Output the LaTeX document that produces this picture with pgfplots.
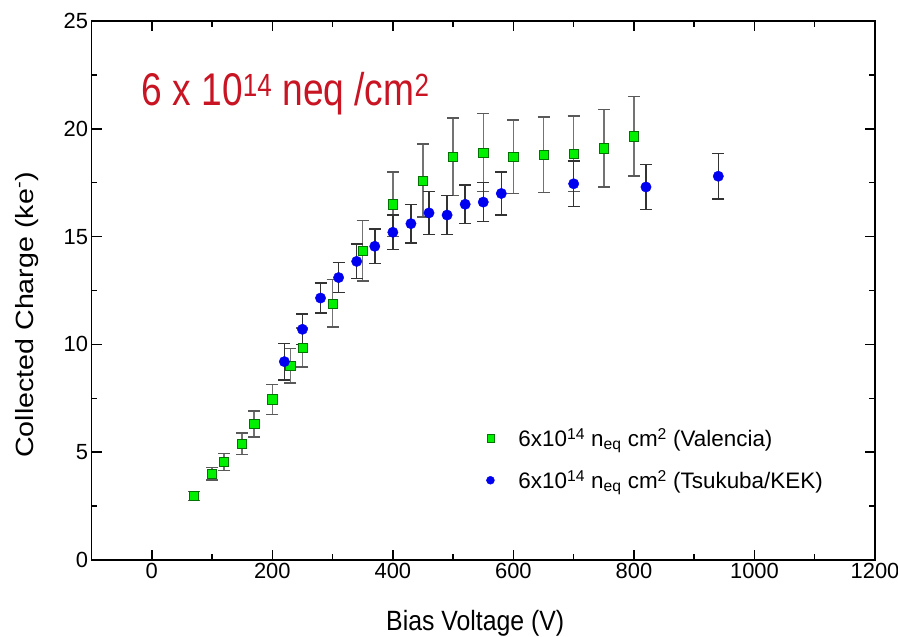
\documentclass[border=0pt]{standalone}
\usepackage{fontspec}
\setmainfont{Liberation Sans}
\usepackage{pgfplots}
\pgfplotsset{compat=1.18}
\definecolor{titlered}{RGB}{200,20,35}
\definecolor{mgreen}{RGB}{0,240,0}
\definecolor{mblue}{RGB}{0,0,240}
\begin{document}
\begin{tikzpicture}
\begin{axis}[
  scale only axis, width=783.5bp, height=539bp,
  xmin=-100, xmax=1200, ymin=0, ymax=25,
  xtick={0,200,...,1200}, ytick={0,5,...,25},
  minor x tick num=1, minor y tick num=1,
  tick align=inside, xtick pos=both, ytick pos=both,
  major tick length=10bp, minor tick length=6bp,
  every tick/.style={line width=1.5bp, black},
  axis line style={line width=1.5bp},
  /pgf/number format/assume math mode=true,
  /pgf/number format/1000 sep={},
  ticklabel style={font=\fontsize{22}{26}\selectfont},
  xlabel={\scalebox{0.89}[1]{Bias Voltage (V)}},
  ylabel={\scalebox{1.15}[1]{Collected Charge (ke\textsuperscript{-})}},
  xlabel style={at={(axis description cs:0.5,0)}, anchor=base, yshift=-70bp, xshift=-8bp, font=\fontsize{28}{32}\selectfont},
  ylabel style={at={(axis description cs:0,0.4545)}, anchor=center, yshift=64.5bp, font=\fontsize{25}{30}\selectfont},
  legend style={at={(0.5,0.252)}, anchor=north west, draw=none, fill=none,
    font=\fontsize{22.5}{27}\selectfont, row sep=18bp},
  legend cell align=left,
]
\addplot[only marks, mark=square*, mark size=4.6bp,
  mark options={fill=mgreen, draw=green!45!black, line width=0.6bp},
  legend image post style={mark size=3.6bp},
  error bars/.cd, y dir=both, y explicit,
  error bar style={line width=1.5bp, color=black!55},
  error mark options={rotate=90, mark size=6bp, line width=1.5bp, color=black!65}]
  table[x=x, y=y, y error=e] {
x y e
70 2.97 0.2
100 4.0 0.3
120 4.55 0.4
150 5.4 0.5
170 6.3 0.6
200 7.45 0.7
230 9.0 0.8
250 9.85 0.9
300 11.9 1.1
350 14.35 1.4
400 16.5 1.5
450 17.6 1.7
500 18.7 1.8
550 18.9 1.8
600 18.7 1.7
650 18.8 1.75
700 18.85 1.75
750 19.1 1.8
800 19.65 1.85
};
\addlegendentry{\hspace{22bp}6x10\textsuperscript{14} n\textsubscript{eq} cm\textsuperscript{2} (Valencia)}
\addplot[only marks, mark=*, mark size=5.2bp,
  mark options={fill=mblue, draw=mblue},
  legend image post style={mark size=4bp},
  error bars/.cd, y dir=both, y explicit,
  error bar style={line width=1.5bp, color=black!80},
  error mark options={rotate=90, mark size=6bp, line width=1.5bp, color=black!80}]
  table[x=x, y=y, y error=e] {
x y e
220 9.2 0.85
250 10.7 0.7
280 12.15 0.7
310 13.1 0.7
340 13.85 0.8
370 14.55 0.8
400 15.2 0.8
430 15.6 0.9
460 16.1 1.0
490 16.0 0.9
520 16.5 0.9
550 16.6 0.9
580 17.0 1.0
700 17.45 1.05
820 17.3 1.05
940 17.8 1.05
};
\addlegendentry{\hspace{22bp}6x10\textsuperscript{14} n\textsubscript{eq} cm\textsuperscript{2} (Tsukuba/KEK)}
\node[anchor=base west, inner sep=0pt, text=titlered] at (axis cs:-17,21.1)
  {\scalebox{0.81}[1]{\fontsize{46}{52}\selectfont 6 x 10\textsuperscript{14} neq /cm\textsuperscript{2}}};
\end{axis}
\pgfresetboundingbox
\path ([shift={(-91.5bp,-77bp)}]current axis.south west) rectangle ([shift={(23bp,21bp)}]current axis.north east);
\end{tikzpicture}
\end{document}
